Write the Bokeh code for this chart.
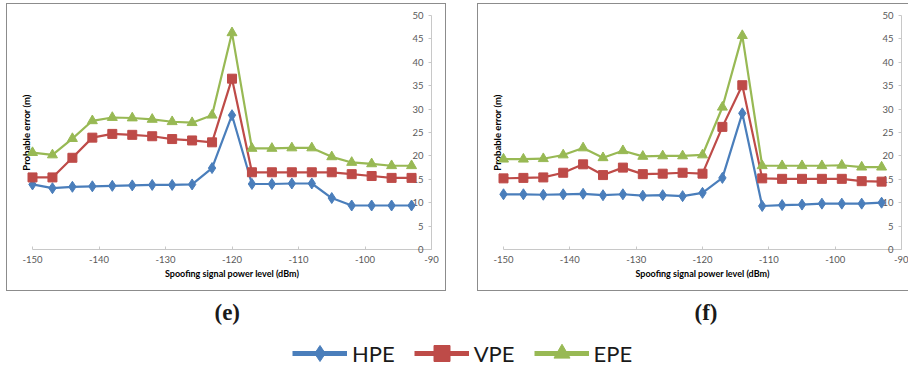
from bokeh.plotting import figure
from bokeh.models import (LinearAxis, FixedTicker, Range1d, Legend, LegendItem,
                          Label, Spacer, ColumnDataSource)
from bokeh.layouts import row, column
from bokeh.embed import file_html
from bokeh.resources import INLINE

# ---------------- data ----------------
power_dbm = [-150, -147, -144, -141, -138, -135, -132, -129, -126, -123,
             -120, -117, -114, -111, -108, -105, -102, -99, -96, -93]

hpe_e = [13.9, 13.1, 13.4, 13.5, 13.6, 13.7, 13.8, 13.8, 13.9, 17.4,
         28.7, 14.0, 14.0, 14.1, 14.1, 11.0, 9.4, 9.4, 9.4, 9.4]
vpe_e = [15.4, 15.4, 19.6, 23.9, 24.7, 24.5, 24.2, 23.6, 23.3, 22.9,
         36.5, 16.5, 16.5, 16.5, 16.5, 16.5, 16.1, 15.7, 15.3, 15.3]
epe_e = [20.7, 20.2, 23.7, 27.5, 28.2, 28.1, 27.8, 27.3, 27.1, 28.7,
         46.3, 21.6, 21.6, 21.7, 21.7, 19.8, 18.6, 18.3, 17.9, 17.9]

hpe_f = [11.8, 11.8, 11.7, 11.8, 11.9, 11.6, 11.8, 11.5, 11.6, 11.4,
         12.1, 15.3, 29.1, 9.3, 9.5, 9.6, 9.8, 9.8, 9.8, 10.0]
vpe_f = [15.2, 15.3, 15.4, 16.4, 18.2, 15.9, 17.5, 16.1, 16.2, 16.4,
         16.2, 26.2, 35.1, 15.2, 15.1, 15.1, 15.1, 15.1, 14.6, 14.5]
epe_f = [19.3, 19.3, 19.4, 20.2, 21.7, 19.6, 21.1, 19.9, 20.0, 20.0,
         20.2, 30.4, 45.7, 17.9, 17.9, 17.9, 17.9, 18.0, 17.6, 17.6]

x_ticks = [-150, -140, -130, -120, -110, -100, -90]
x_tick_labels = ["-150", "-140", "-130", "-120", "-110", "-100", "-90"]
y_ticks = [0, 5, 10, 15, 20, 25, 30, 35, 40, 45, 50]
y_tick_labels = ["0", "5", "10", "15", "20", "25", "30", "35", "40", "45", "50"]

series_names = ["HPE", "VPE", "EPE"]
series_colors = ["#4A7EBB", "#BE4B48", "#98B954"]
series_markers = ["diamond", "square", "triangle"]
marker_sizes = [11, 9, 10]

panel_tags = ["(e)", "(f)"]

FONT = "Lato"
AXIS_GREY = "#c8c8c8"
FIG_SPACE = "\u2007"


def make_panel(series, width, right_border, border_css):
    p = figure(width=width, height=288,
               x_range=Range1d(-150, -90), y_range=Range1d(0, 50),
               output_backend="svg", toolbar_location=None,
               x_axis_location="below", y_axis_location="right",
               min_border_left=25, min_border_right=right_border,
               min_border_top=11, min_border_bottom=43,
               outline_line_color=None, background_fill_color="white",
               border_fill_color="white", styles=border_css)
    p.grid.visible = False

    for vals, name, col, mk, ms in zip(series, series_names, series_colors,
                                       series_markers, marker_sizes):
        src = ColumnDataSource(dict(x=power_dbm, y=vals))
        p.line("x", "y", source=src, line_color=col, line_width=2.2, level="overlay")
        p.scatter("x", "y", source=src, marker=mk, size=ms, fill_color=col,
                  line_color=col, level="overlay")

    xa = p.xaxis[0]
    xa.ticker = FixedTicker(ticks=x_ticks)
    xa.major_label_overrides = {t: lab for t, lab in zip(x_ticks, x_tick_labels)}
    xa.major_tick_in = 3
    xa.major_tick_out = 0
    xa.minor_tick_line_color = None
    xa.axis_line_color = AXIS_GREY
    xa.major_tick_line_color = AXIS_GREY
    xa.major_label_text_font = FONT
    xa.major_label_text_font_size = "9.5px"
    xa.major_label_text_color = "#595959"
    xa.major_label_standoff = 6
    xa.axis_label = "Spoofing signal power level (dBm)"
    xa.axis_label_text_font = FONT
    xa.axis_label_text_font_size = "9px"
    xa.axis_label_text_font_style = "bold"
    xa.axis_label_text_color = "#000000"
    xa.axis_label_standoff = 2

    ya = p.yaxis[0]
    ya.ticker = FixedTicker(ticks=y_ticks)
    # pad one-digit labels with a figure space so they line up on the right
    ya.major_label_overrides = {t: (lab if len(lab) > 1 else FIG_SPACE + lab)
                                for t, lab in zip(y_ticks, y_tick_labels)}
    ya.major_tick_in = 3
    ya.major_tick_out = 0
    ya.minor_tick_line_color = None
    ya.axis_line_color = AXIS_GREY
    ya.major_tick_line_color = AXIS_GREY
    ya.major_label_text_font = FONT
    ya.major_label_text_font_size = "9.5px"
    ya.major_label_text_color = "#595959"
    ya.major_label_standoff = -19

    la = LinearAxis(ticker=FixedTicker(ticks=[]), axis_line_color=None,
                    major_tick_in=0, major_tick_out=0,
                    minor_tick_line_color=None,
                    axis_label="Probable error (m)",
                    axis_label_text_font=FONT,
                    axis_label_text_font_size="9.5px",
                    axis_label_text_font_style="bold",
                    axis_label_text_color="#000000",
                    axis_label_standoff=1)
    p.add_layout(la, "left")
    return p


p_e = make_panel([hpe_e, vpe_e, epe_e], 440, 16, {"border": "1px solid #8c8c8c"})
p_f = make_panel([hpe_f, vpe_f, epe_f], 431, 8,
                 {"border-left": "1px solid #8c8c8c", "border-top": "1px solid #8c8c8c",
                  "border-bottom": "1px solid #8c8c8c"})

# bottom strip: panel tags + legend
b = figure(width=909, height=75, x_range=Range1d(0, 1), y_range=Range1d(0, 1),
           output_backend="svg", toolbar_location=None,
           min_border=0, outline_line_color=None)
b.axis.visible = False
b.grid.visible = False

items = []
for name, col, mk in zip(series_names, series_colors, series_markers):
    r1 = b.line(x=[-10, -9], y=[-10, -10], line_color=col, line_width=5)
    r2 = b.scatter(x=[-10], y=[-10], marker=mk, fill_color=col, line_color=col, size=10)
    items.append(LegendItem(label=name, renderers=[r1, r2]))

leg = Legend(items=items, orientation="horizontal", location=(292, -7),
             glyph_width=55, glyph_height=40, label_standoff=5, spacing=19,
             padding=0, margin=0, border_line_color=None,
             background_fill_alpha=0, label_text_font=FONT,
             label_text_font_size="22px", label_text_color="#1a1a1a")
b.add_layout(leg, "center")

for tag, sx in zip(panel_tags, [214, 694]):
    b.add_layout(Label(x=sx, y=54, x_units="screen", y_units="screen", text=tag,
                       text_font="Liberation Serif", text_font_size="23px",
                       text_font_style="bold", text_color="#1a1a1a",
                       text_baseline="middle"))

layout = column(Spacer(height=3),
                row(Spacer(width=6), p_e, Spacer(width=31), p_f),
                b)

open("out.html", "w").write(file_html(layout, INLINE))
